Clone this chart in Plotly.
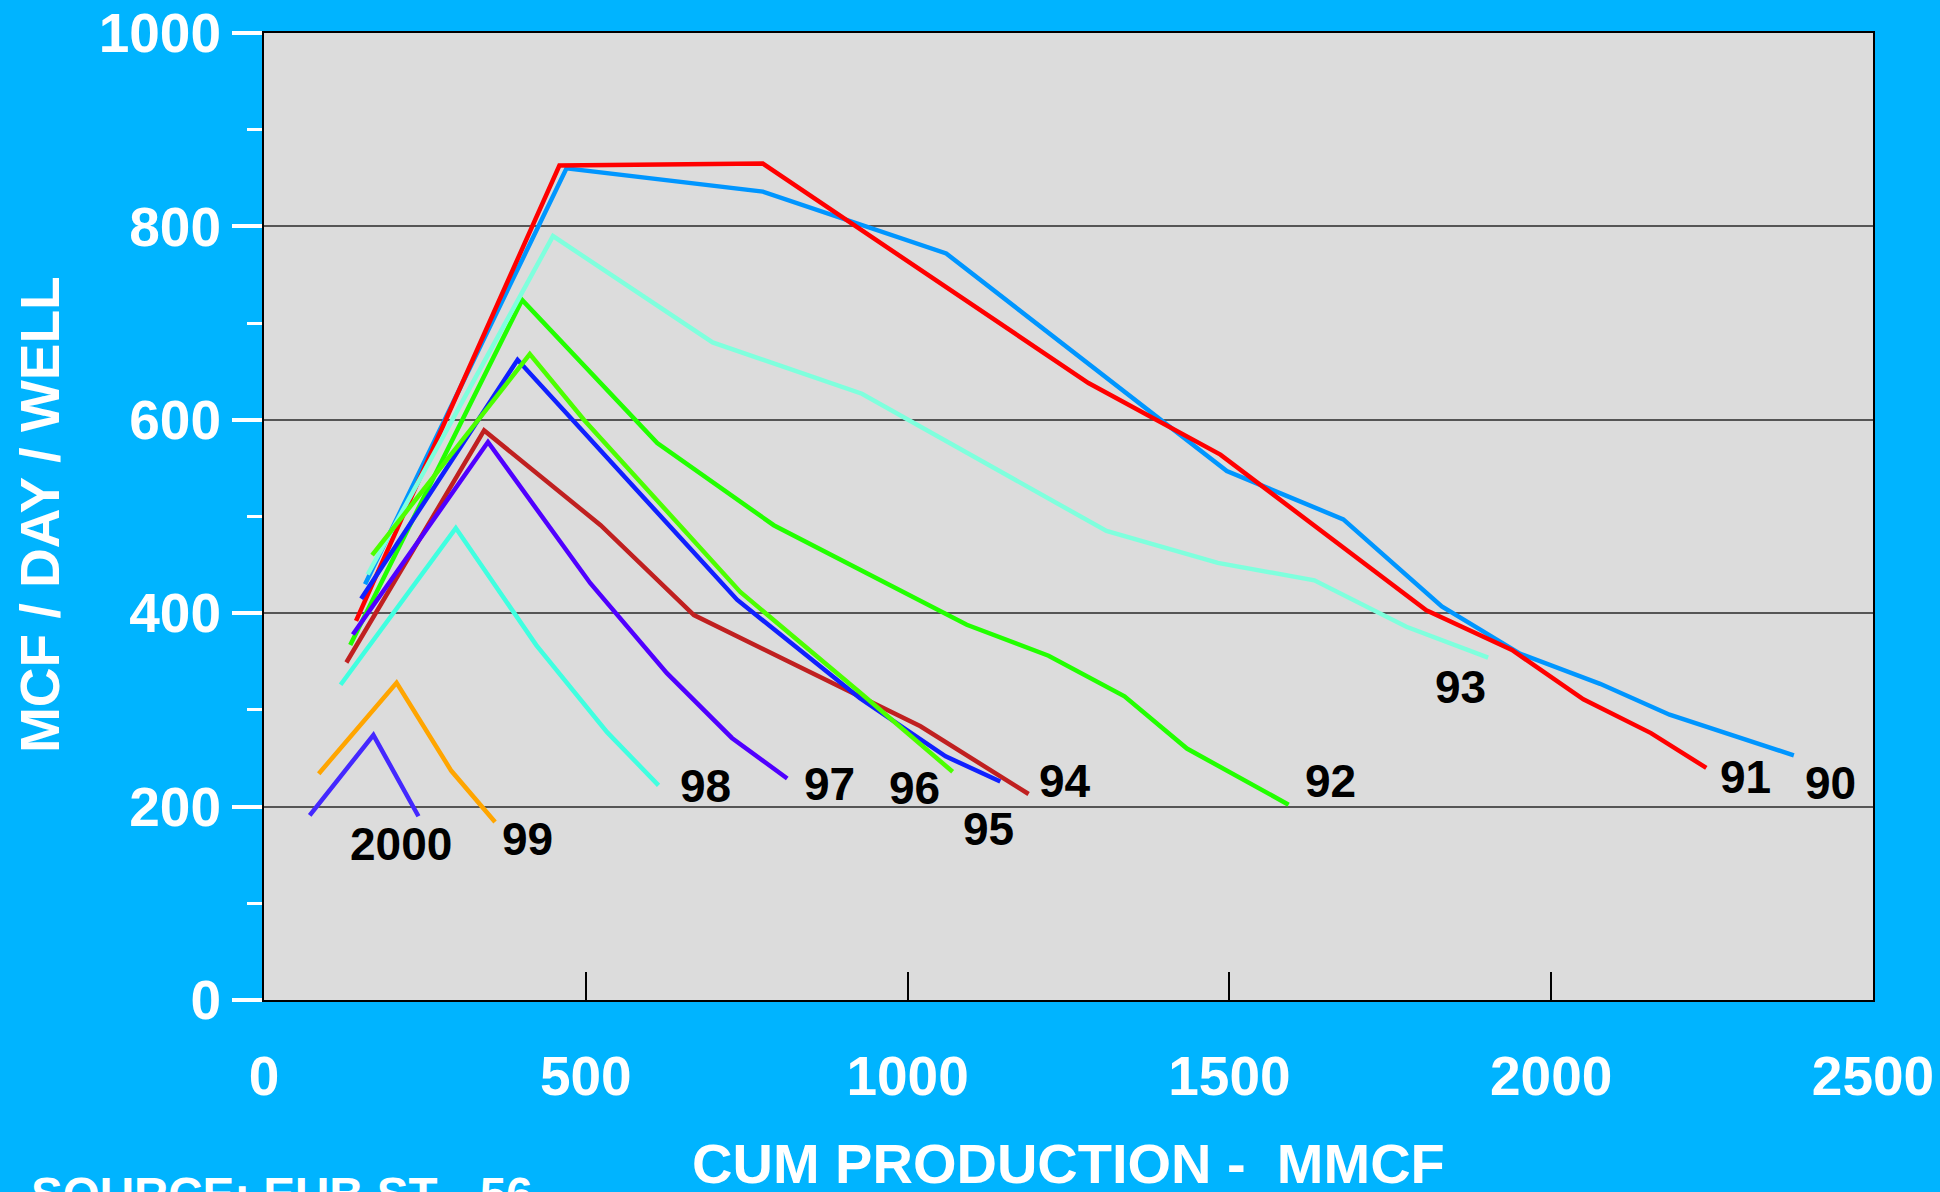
import plotly.graph_objects as go

# ---- data (cum production MMCF, rate MCF/day/well) ----
x90 = [157, 470, 775, 1060, 1496, 1677, 1830, 1952, 2076, 2184, 2377]
y90 = [430, 860, 836, 772, 547, 497, 407, 358, 327, 295, 253]

x91 = [143, 459, 775, 1281, 1486, 1806, 1939, 2050, 2155, 2241]
y91 = [392, 863, 865, 638, 564, 403, 362, 311, 276, 240]

x92 = [134, 401, 611, 792, 1092, 1219, 1337, 1434, 1592]
y92 = [367, 724, 576, 491, 388, 356, 314, 260, 202]

x93 = [161, 449, 697, 929, 1309, 1482, 1632, 1775, 1902]
y93 = [440, 790, 680, 627, 485, 452, 434, 386, 354]

x94 = [128, 342, 523, 668, 1020, 1188]
y94 = [349, 589, 491, 398, 283, 213]

x95 = [151, 394, 735, 926, 1059, 1144]
y95 = [415, 662, 414, 312, 252, 226]

x96 = [168, 413, 497, 740, 926, 1070]
y96 = [460, 668, 600, 422, 318, 236]

x97 = [138, 348, 507, 626, 727, 813]
y97 = [378, 577, 431, 338, 271, 229]

x98 = [119, 298, 423, 533, 613]
y98 = [326, 488, 367, 277, 222]

x99 = [85, 206, 291, 359]
y99 = [234, 328, 237, 184]

x2000 = [71, 170, 240]
y2000 = [191, 274, 190]

series_names = ["90", "91", "92", "93", "94", "95", "96", "97", "98", "99", "2000"]
series_x = [x90, x91, x92, x93, x94, x95, x96, x97, x98, x99, x2000]
series_y = [y90, y91, y92, y93, y94, y95, y96, y97, y98, y99, y2000]
series_colors = ["#0096FF", "#FF0000", "#22FF00", "#7FFFDD", "#C02020", "#1020FF",
                 "#4CFF00", "#5000FF", "#40FFE0", "#FFA500", "#4428FF"]

# label positions (data coords)
label_text = ["90", "91", "92", "93", "94", "95", "96", "97", "98", "99", "2000"]
label_x = [2434, 2302, 1657, 1859, 1245, 1125, 1011, 879, 686, 409, 213]
label_y = [224, 231, 226, 324, 226, 177, 219, 223, 221, 166, 161]

x_ticks = [0, 500, 1000, 1500, 2000, 2500]
y_ticks = [0, 200, 400, 600, 800, 1000]

FONT = "Liberation Sans, Arial, sans-serif"
BG = "#00B4FF"

fig = go.Figure()
for name, xs, ys, c in zip(series_names, series_x, series_y, series_colors):
    fig.add_trace(go.Scatter(x=xs, y=ys, mode="lines", name=name,
                             line=dict(color=c, width=4.5), showlegend=False))

for t, lx, ly in zip(label_text, label_x, label_y):
    fig.add_annotation(x=lx, y=ly, xref="x", yref="y", text=t, showarrow=False,
                       font=dict(family=FONT, size=46, color="black", weight="bold"),
                       xanchor="center", yanchor="middle")

fig.add_annotation(x=0.5, y=-0.1686, xref="paper", yref="paper",
                   text="CUM PRODUCTION -\u00a0 MMCF", showarrow=False,
                   font=dict(family=FONT, size=56, color="white", weight="bold"),
                   xanchor="center", yanchor="middle")
fig.add_annotation(x=-0.1392, y=0.5016, xref="paper", yref="paper",
                   text="MCF / DAY / WELL", showarrow=False, textangle=-90,
                   font=dict(family=FONT, size=55, color="white", weight="bold"),
                   xanchor="center", yanchor="middle")
fig.add_annotation(x=-0.1462, y=-0.2016, xref="paper", yref="paper",
                   text="SOURCE: EUB ST - 56", showarrow=False,
                   font=dict(family=FONT, size=47.5, color="white", weight="bold"),
                   xanchor="left", yanchor="middle")

fig.update_layout(
    width=1940, height=1192, autosize=False,
    margin=dict(l=264, r=67, t=33, b=192, pad=0),
    paper_bgcolor=BG, plot_bgcolor="#DCDCDC",
    font=dict(family=FONT),
)
fig.update_xaxes(
    range=[0, 2500], tickvals=x_ticks, ticktext=[str(v) for v in x_ticks],
    ticks="inside", ticklen=28, tickwidth=2, tickcolor="black",
    tickfont=dict(family=FONT, size=55, color="white", weight="bold"),
    ticklabelstandoff=27, automargin=False,
    showgrid=False, zeroline=False,
    showline=True, linecolor="black", linewidth=2, mirror=True,
)
fig.update_yaxes(
    range=[0, 1000], tickvals=y_ticks, ticktext=[str(v) for v in y_ticks],
    ticks="outside", ticklen=30, tickwidth=4, tickcolor="white",
    tickfont=dict(family=FONT, size=55, color="white", weight="bold"),
    ticklabelstandoff=0, automargin=False,
    minor=dict(dtick=100, ticks="outside", ticklen=15, tickwidth=3,
               tickcolor="white", showgrid=False),
    showgrid=True, gridcolor="#555555", gridwidth=1.5, zeroline=False,
    showline=True, linecolor="black", linewidth=2, mirror=True,
)

fig.write_html(
    "out.html",
    config={"displayModeBar": False},
    post_script="document.body.style.margin='0';document.body.style.background='#00B4FF';",
)
